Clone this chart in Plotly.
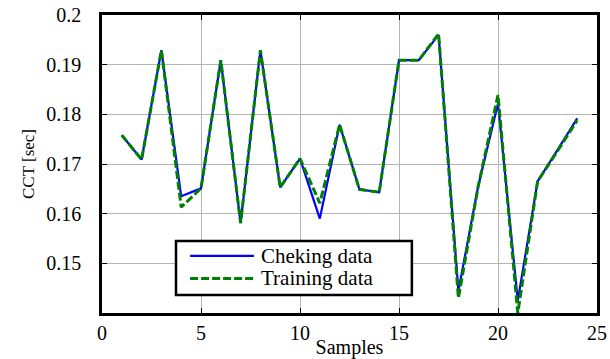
import plotly.graph_objects as go

samples = list(range(1, 25))
checking = [0.1758, 0.1709, 0.1929, 0.1635, 0.1651, 0.1909, 0.1581, 0.1929,
            0.1653, 0.1711, 0.1590, 0.1779, 0.1649, 0.1643, 0.1909, 0.1909,
            0.1960, 0.1445, 0.1655, 0.1822, 0.1425, 0.1665, 0.1728, 0.1792]
training = [0.1758, 0.1709, 0.1929, 0.1613, 0.1651, 0.1909, 0.1581, 0.1929,
            0.1653, 0.1711, 0.1621, 0.1779, 0.1649, 0.1643, 0.1909, 0.1909,
            0.1962, 0.1430, 0.1655, 0.1839, 0.1400, 0.1665, 0.1726, 0.1788]
series_names = ["Cheking data", "Training data"]
series_colors = ["#0000ff", "#008000"]

x_ticks = [0, 5, 10, 15, 20, 25]
y_ticks = [0.15, 0.16, 0.17, 0.18, 0.19, 0.2]
y_labels = ["0.15", "0.16", "0.17", "0.18", "0.19", "0.2"]

serif = "Liberation Serif"

fig = go.Figure()
fig.add_trace(go.Scatter(x=samples, y=checking, mode="lines", name=series_names[0],
                         line=dict(color=series_colors[0], width=2.2), showlegend=False))
fig.add_trace(go.Scatter(x=samples, y=training, mode="lines", name=series_names[1],
                         line=dict(color=series_colors[1], width=3, dash="8px,3px"),
                         showlegend=False))

axis_common = dict(showline=True, linecolor="black", linewidth=2.5, mirror="ticks",
                   ticks="inside", ticklen=5, tickcolor="black", tickwidth=1,
                   showgrid=True, gridcolor="#b4b4b4", gridwidth=1, zeroline=False,
                   automargin=False,
                   tickfont=dict(family=serif, size=20, color="black"))

fig.update_xaxes(range=[0, 25], tickvals=x_ticks, ticklabelstandoff=0, **axis_common,
                 title=dict(text="Samples", font=dict(family=serif, size=20, color="black"),
                            standoff=0))
fig.update_yaxes(range=[0.14, 0.2], tickvals=y_ticks, ticktext=y_labels,
                 ticklabelstandoff=14, **axis_common,
                 title=dict(text="CCT [sec]", font=dict(family=serif, size=17, color="black"),
                            standoff=8))

# partially visible (cut-off) title, as in the reference
fig.add_annotation(text="Performance of the ANFIS model", xref="paper", yref="paper",
                   x=0.53, y=1, yanchor="bottom", yshift=10, showarrow=False,
                   font=dict(family=serif, size=20, color="#9a9a9a"))

# custom legend box (paper coordinates)
lx0, lx1, ly0, ly1 = 0.1495, 0.626, 0.0604, 0.2416
fig.add_shape(type="rect", xref="paper", yref="paper", x0=lx0, x1=lx1, y0=ly0, y1=ly1,
              line=dict(color="black", width=2.5), fillcolor="white", layer="above")
rows_y = [0.192, 0.116]
dashes = ["solid", "8px,3px"]
widths = [2.2, 3]
for name, col, ry, dsh, w in zip(series_names, series_colors, rows_y, dashes, widths):
    fig.add_shape(type="line", xref="paper", yref="paper", x0=0.178, x1=0.307,
                  y0=ry, y1=ry, line=dict(color=col, width=w, dash=dsh), layer="above")
    fig.add_annotation(text=name, xref="paper", yref="paper", x=0.318, y=ry,
                       xanchor="left", yanchor="middle", showarrow=False,
                       font=dict(family=serif, size=21, color="black"))

fig.update_layout(
    width=610, height=359,
    margin=dict(l=102, r=13, t=15, b=46),
    paper_bgcolor="white", plot_bgcolor="white",
)

fig.write_html("out.html", config={"displayModeBar": False},
               post_script="document.body.style.margin='0';document.body.style.overflow='hidden';")
